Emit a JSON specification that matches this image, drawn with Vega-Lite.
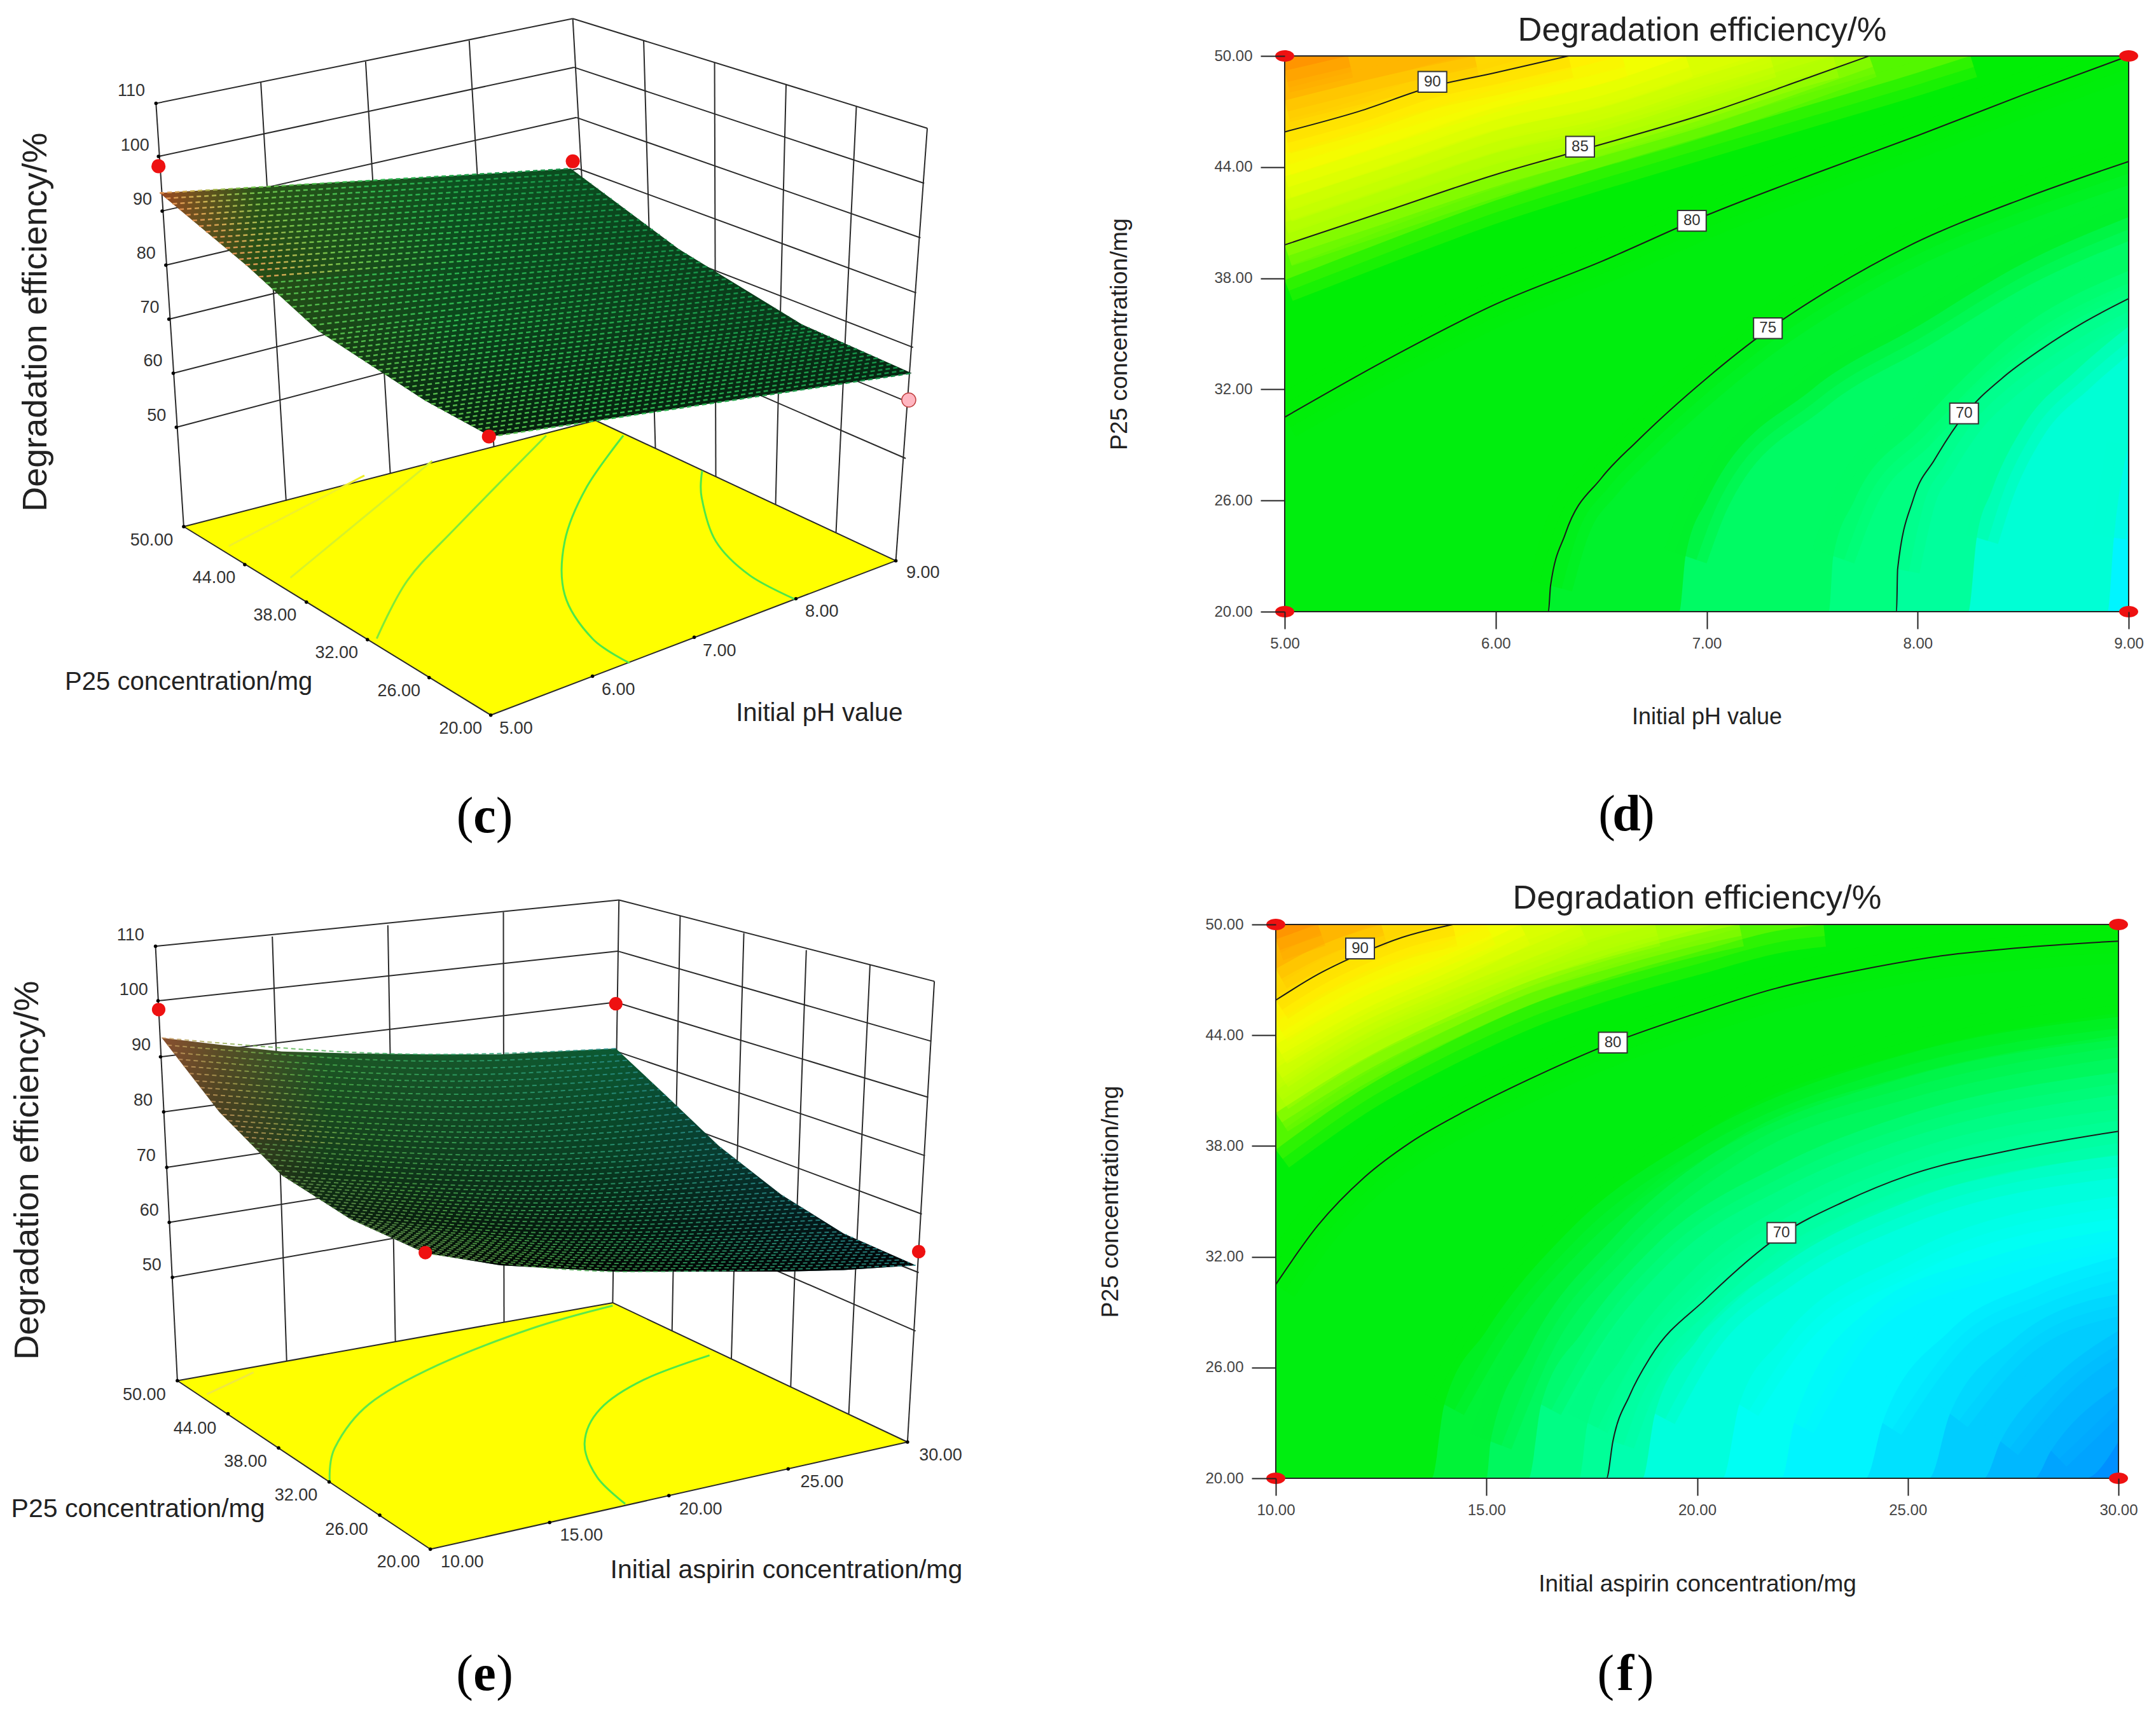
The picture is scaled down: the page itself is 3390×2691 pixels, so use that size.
{
"$schema":"https://vega.github.io/schema/vega-lite/v6.json",
"background":"white","padding":0,
"config":{"view":{"stroke":null},"text":{"font":"Liberation Sans"},"title":{"font":"Liberation Sans"}},
"columns":2,"bounds":"flush","align":"each","spacing":{"row":492,"column":0},
"datasets":{
"cWall":[{"px":252,"py":211,"px2":928,"py2":37},{"px":256,"py":320,"px2":930,"py2":137},{"px":262,"py":432,"px2":934,"py2":240},{"px":268,"py":543,"px2":937,"py2":345},{"px":273,"py":654,"px2":941,"py2":447},{"px":280,"py":765,"px2":945,"py2":550},{"px":285,"py":876,"px2":949,"py2":655},
{"px":928,"py":37,"px2":1503,"py2":262},{"px":930,"py":137,"px2":1498,"py2":375},{"px":934,"py":240,"px2":1492,"py2":487},{"px":937,"py":345,"px2":1485,"py2":600},{"px":941,"py":447,"px2":1480,"py2":712},{"px":945,"py":550,"px2":1473,"py2":825},{"px":949,"py":655,"px2":1468,"py2":940},
{"px":252,"py":211,"px2":297,"py2":1080},{"px":928,"py":37,"px2":965,"py2":862},{"px":1503,"py":262,"px2":1452,"py2":1150},
{"px":422,"py":168,"px2":463,"py2":1027},{"px":592,"py":125,"px2":632,"py2":971},{"px":760,"py":82,"px2":800,"py2":916},
{"px":1043,"py":82,"px2":1062,"py2":919},{"px":1158,"py":127,"px2":1160,"py2":977},{"px":1274,"py":172,"px2":1257,"py2":1034},{"px":1388,"py":217,"px2":1355,"py2":1092},
{"px":297,"py":1080,"px2":965,"py2":862},{"px":965,"py":862,"px2":1452,"py2":1150},{"px":1452,"py":1150,"px2":795,"py2":1467},{"px":795,"py":1467,"px2":297,"py2":1080}],
"cFloor":[{"px":297,"py":1080,"py2":1080},{"px":795,"py":917,"py2":1467},{"px":965,"py":862,"py2":1385},{"px":1452,"py":1150,"py2":1150}],
"cFloorC":[{"px":1138,"py":965,"eff":70},{"px":1137,"py":1020,"eff":70},{"px":1160,"py":1110,"eff":70},{"px":1215,"py":1180,"eff":70},{"px":1290,"py":1230,"eff":70},
{"px":1010,"py":893,"eff":75},{"px":950,"py":1000,"eff":75},{"px":915,"py":1110,"eff":75},{"px":915,"py":1220,"eff":75},{"px":960,"py":1310,"eff":75},{"px":1020,"py":1360,"eff":75},
{"px":885,"py":893,"eff":80},{"px":740,"py":1080,"eff":80},{"px":660,"py":1190,"eff":80},{"px":610,"py":1310,"eff":80},
{"px":700,"py":945,"eff":85},{"px":470,"py":1185,"eff":85},{"px":590,"py":975,"eff":90},{"px":370,"py":1120,"eff":90}],
"cSurf":[{"px":258,"py":395,"py2":395},{"px":400,"py":384,"py2":545},{"px":515,"py":375,"py2":678},{"px":688,"py":363,"py2":821},{"px":795,"py":355,"py2":895},{"px":925,"py":345,"py2":870},{"px":1100,"py":510,"py2":837},{"px":1300,"py":665,"py2":799},{"px":1478,"py":765,"py2":765}],
"cMesh":[{"px":258,"py":395,"px2":925,"py2":345},{"px":279,"py":417,"px2":947,"py2":366},{"px":301,"py":440,"px2":969,"py2":386},{"px":322,"py":463,"px2":991,"py2":407},{"px":344,"py":486,"px2":1013,"py2":428},{"px":365,"py":508,"px2":1036,"py2":450},{"px":387,"py":531,"px2":1058,"py2":470},{"px":408,"py":554,"px2":1080,"py2":491},{"px":430,"py":580,"px2":1102,"py2":512},{"px":451,"py":604,"px2":1124,"py2":529},{"px":473,"py":629,"px2":1146,"py2":546},{"px":494,"py":654,"px2":1168,"py2":563},{"px":516,"py":679,"px2":1190,"py2":580},{"px":537,"py":696,"px2":1213,"py2":598},{"px":559,"py":714,"px2":1235,"py2":615},{"px":580,"py":732,"px2":1257,"py2":632},{"px":602,"py":750,"px2":1279,"py2":649},{"px":623,"py":767,"px2":1301,"py2":666},{"px":645,"py":785,"px2":1323,"py2":678},{"px":666,"py":803,"px2":1345,"py2":690},{"px":688,"py":821,"px2":1367,"py2":703},{"px":709,"py":836,"px2":1389,"py2":715},{"px":731,"py":851,"px2":1412,"py2":728},{"px":752,"py":865,"px2":1434,"py2":740},{"px":774,"py":880,"px2":1456,"py2":753},{"px":795,"py":895,"px2":1478,"py2":765},
{"px":268.5,"py":406,"px2":936,"py2":355.5},{"px":290,"py":428.5,"px2":958,"py2":376},{"px":311.5,"py":451.5,"px2":980,"py2":396.5},{"px":333,"py":474.5,"px2":1002,"py2":417.5},{"px":354.5,"py":497,"px2":1024.5,"py2":439},{"px":376,"py":519.5,"px2":1047,"py2":460},{"px":397.5,"py":542.5,"px2":1069,"py2":480.5},{"px":419,"py":567,"px2":1091,"py2":501.5},{"px":440.5,"py":592,"px2":1113,"py2":520.5},{"px":462,"py":616.5,"px2":1135,"py2":537.5},{"px":483.5,"py":641.5,"px2":1157,"py2":554.5},{"px":505,"py":666.5,"px2":1179,"py2":571.5},{"px":526.5,"py":687.5,"px2":1201.5,"py2":589},{"px":548,"py":705,"px2":1224,"py2":606.5},{"px":569.5,"py":723,"px2":1246,"py2":623.5},{"px":591,"py":741,"px2":1268,"py2":640.5},{"px":612.5,"py":758.5,"px2":1290,"py2":657.5},{"px":634,"py":776,"px2":1312,"py2":672},{"px":655.5,"py":794,"px2":1334,"py2":684},{"px":677,"py":812,"px2":1356,"py2":696.5},{"px":698.5,"py":828.5,"px2":1378,"py2":709},{"px":720,"py":843.5,"px2":1400.5,"py2":721.5},{"px":741.5,"py":858,"px2":1423,"py2":734},{"px":763,"py":872.5,"px2":1445,"py2":746.5},{"px":784.5,"py":887.5,"px2":1467,"py2":759}],
"cRed":[{"px":256,"py":340},{"px":928,"py":330},{"px":792,"py":895}],
"cPink":[{"px":1473,"py":820}],
"cDots":[{"px":252,"py":211},{"px":256,"py":320},{"px":262,"py":432},{"px":268,"py":543},{"px":273,"py":654},{"px":280,"py":765},{"px":285,"py":876},{"px":297,"py":1080},{"px":396,"py":1158},{"px":496,"py":1235},{"px":595,"py":1312},{"px":695,"py":1390},{"px":795,"py":1467},{"px":960,"py":1387},{"px":1125,"py":1307},{"px":1290,"py":1228},{"px":1452,"py":1150}],
"cTick":[{"px":212,"py":185,"t":"110"},{"px":218,"py":298,"t":"100"},{"px":230,"py":408,"t":"90"},{"px":236,"py":520,"t":"80"},{"px":242,"py":630,"t":"70"},{"px":247,"py":740,"t":"60"},{"px":253,"py":852,"t":"50"},{"px":245,"py":1108,"t":"50.00"},{"px":346,"py":1185,"t":"44.00"},{"px":445,"py":1263,"t":"38.00"},{"px":545,"py":1340,"t":"32.00"},{"px":646,"py":1418,"t":"26.00"},{"px":746,"py":1495,"t":"20.00"},{"px":836,"py":1495,"t":"5.00"},{"px":1002,"py":1415,"t":"6.00"},{"px":1166,"py":1335,"t":"7.00"},{"px":1332,"py":1255,"t":"8.00"},{"px":1496,"py":1175,"t":"9.00"}],
"cTitle":[{"px":305,"py":1400,"t":"P25 concentration/mg"},{"px":1328,"py":1463,"t":"Initial pH value"}],
"cZ":[{"px":58,"py":660,"t":"Degradation efficiency/%"}],
"cCapB":[{"px":785,"py":1676,"t":"c"}],
"cCapP":[{"px":753,"py":1676,"t":"("},{"px":817,"py":1676,"t":")"}],
"cCorner":[{"px":0,"py":0}],
"eWall":[{"px":248,"py":140,"px2":990,"py2":45},{"px":252,"py":252,"px2":988,"py2":150},{"px":256,"py":367,"px2":985,"py2":255},{"px":261,"py":480,"px2":984,"py2":355},{"px":266,"py":594,"px2":982,"py2":455},{"px":270,"py":707,"px2":981,"py2":560},{"px":275,"py":820,"px2":980,"py2":660},
{"px":990,"py":45,"px2":1495,"py2":212},{"px":988,"py":150,"px2":1490,"py2":335},{"px":985,"py":255,"px2":1485,"py2":450},{"px":984,"py":355,"px2":1480,"py2":570},{"px":982,"py":455,"px2":1475,"py2":690},{"px":981,"py":560,"px2":1470,"py2":810},{"px":980,"py":660,"px2":1465,"py2":930},
{"px":248,"py":140,"px2":283,"py2":1032},{"px":990,"py":45,"px2":980,"py2":872},{"px":1495,"py":212,"px2":1452,"py2":1158},
{"px":435,"py":120,"px2":458,"py2":992},{"px":620,"py":97,"px2":632,"py2":952},{"px":805,"py":70,"px2":806,"py2":912},
{"px":1088,"py":78,"px2":1075,"py2":930},{"px":1190,"py":113,"px2":1170,"py2":987},{"px":1290,"py":148,"px2":1265,"py2":1045},{"px":1392,"py":178,"px2":1358,"py2":1100},
{"px":283,"py":1032,"px2":980,"py2":872},{"px":980,"py":872,"px2":1452,"py2":1158},{"px":1452,"py":1158,"px2":688,"py2":1378},{"px":688,"py":1378,"px2":283,"py2":1032}],
"eFloor":[{"px":283,"py":1032,"py2":1032},{"px":688,"py":939,"py2":1378},{"px":980,"py":872,"py2":1294},{"px":1452,"py":1158,"py2":1158}],
"eFloorC":[{"px":1135,"py":980,"eff":70},{"px":1030,"py":1030,"eff":70},{"px":960,"py":1090,"eff":70},{"px":935,"py":1160,"eff":70},{"px":955,"py":1230,"eff":70},{"px":1000,"py":1285,"eff":70},
{"px":980,"py":878,"eff":80},{"px":850,"py":925,"eff":80},{"px":700,"py":1000,"eff":80},{"px":590,"py":1080,"eff":80},{"px":535,"py":1170,"eff":80},{"px":527,"py":1240,"eff":80},
{"px":405,"py":1015,"eff":90},{"px":330,"py":1060,"eff":90}],
"eSurf":[{"px":258,"py":328,"py2":328},{"px":350,"py":342,"py2":480},{"px":450,"py":356,"py2":610},{"px":560,"py":360,"py2":700},{"px":680,"py":362,"py2":770},{"px":800,"py":362,"py2":795},{"px":985,"py":350,"py2":808},{"px":1060,"py":440,"py2":808},{"px":1150,"py":550,"py2":808},{"px":1250,"py":650,"py2":808},{"px":1350,"py":730,"py2":805},{"px":1465,"py":795,"py2":795}],
"eMesh":[{"k":0,"px":258,"py":328},{"k":0,"px":700,"py":362},{"k":0,"px":985,"py":350},{"k":1,"px":276,"py":358},{"k":1,"px":712,"py":391},{"k":1,"px":1005,"py":374},{"k":2,"px":293,"py":386},{"k":2,"px":725,"py":417},{"k":2,"px":1025,"py":398},{"k":3,"px":311,"py":416},{"k":3,"px":738,"py":444},{"k":3,"px":1045,"py":422},{"k":4,"px":328,"py":444},{"k":4,"px":750,"py":470},{"k":4,"px":1065,"py":446},{"k":5,"px":346,"py":473},{"k":5,"px":762,"py":497},{"k":5,"px":1085,"py":470},{"k":6,"px":364,"py":498},{"k":6,"px":775,"py":522},{"k":6,"px":1105,"py":495},{"k":7,"px":381,"py":520},{"k":7,"px":788,"py":544},{"k":7,"px":1125,"py":519},{"k":8,"px":399,"py":544},{"k":8,"px":800,"py":569},{"k":8,"px":1145,"py":544},{"k":9,"px":416,"py":566},{"k":9,"px":812,"py":590},{"k":9,"px":1165,"py":565},{"k":10,"px":434,"py":589},{"k":10,"px":825,"py":612},{"k":10,"px":1185,"py":585},{"k":11,"px":452,"py":612},{"k":11,"px":838,"py":633},{"k":11,"px":1205,"py":605},{"k":12,"px":469,"py":626},{"k":12,"px":850,"py":650},{"k":12,"px":1225,"py":625},{"k":13,"px":487,"py":640},{"k":13,"px":862,"py":667},{"k":13,"px":1245,"py":645},{"k":14,"px":504,"py":655},{"k":14,"px":875,"py":683},{"k":14,"px":1265,"py":662},{"k":15,"px":522,"py":669},{"k":15,"px":888,"py":698},{"k":15,"px":1285,"py":678},{"k":16,"px":540,"py":684},{"k":16,"px":900,"py":714},{"k":16,"px":1305,"py":694},{"k":17,"px":557,"py":698},{"k":17,"px":912,"py":729},{"k":17,"px":1325,"py":710},{"k":18,"px":575,"py":709},{"k":18,"px":925,"py":742},{"k":18,"px":1345,"py":726},{"k":19,"px":592,"py":719},{"k":19,"px":938,"py":753},{"k":19,"px":1365,"py":738},{"k":20,"px":610,"py":729},{"k":20,"px":950,"py":764},{"k":20,"px":1385,"py":750},{"k":21,"px":628,"py":739},{"k":21,"px":962,"py":775},{"k":21,"px":1405,"py":761},{"k":22,"px":645,"py":749},{"k":22,"px":975,"py":785},{"k":22,"px":1425,"py":772},{"k":23,"px":663,"py":760},{"k":23,"px":988,"py":797},{"k":23,"px":1445,"py":784},{"k":24,"px":680,"py":770},{"k":24,"px":1000,"py":808},{"k":24,"px":1465,"py":795},
{"k":0.5,"px":267,"py":343},{"k":0.5,"px":706,"py":376},{"k":0.5,"px":995,"py":362},{"k":1.5,"px":284.5,"py":372},{"k":1.5,"px":718.5,"py":404},{"k":1.5,"px":1015,"py":386},{"k":2.5,"px":302,"py":401},{"k":2.5,"px":731.5,"py":430},{"k":2.5,"px":1035,"py":410},{"k":3.5,"px":319.5,"py":430},{"k":3.5,"px":744,"py":457},{"k":3.5,"px":1055,"py":434},{"k":4.5,"px":337,"py":458.5},{"k":4.5,"px":756,"py":483.5},{"k":4.5,"px":1075,"py":458},{"k":5.5,"px":355,"py":485.5},{"k":5.5,"px":768.5,"py":509.5},{"k":5.5,"px":1095,"py":482.5},{"k":6.5,"px":372.5,"py":509},{"k":6.5,"px":781.5,"py":533},{"k":6.5,"px":1115,"py":507},{"k":7.5,"px":390,"py":532},{"k":7.5,"px":794,"py":556.5},{"k":7.5,"px":1135,"py":531.5},{"k":8.5,"px":407.5,"py":555},{"k":8.5,"px":806,"py":579.5},{"k":8.5,"px":1155,"py":554.5},{"k":9.5,"px":425,"py":577.5},{"k":9.5,"px":818.5,"py":601},{"k":9.5,"px":1175,"py":575},{"k":10.5,"px":443,"py":600.5},{"k":10.5,"px":831.5,"py":622.5},{"k":10.5,"px":1195,"py":595},{"k":11.5,"px":460.5,"py":619},{"k":11.5,"px":844,"py":641.5},{"k":11.5,"px":1215,"py":615},{"k":12.5,"px":478,"py":633},{"k":12.5,"px":856,"py":658.5},{"k":12.5,"px":1235,"py":635},{"k":13.5,"px":495.5,"py":647.5},{"k":13.5,"px":868.5,"py":675},{"k":13.5,"px":1255,"py":653.5},{"k":14.5,"px":513,"py":662},{"k":14.5,"px":881.5,"py":690.5},{"k":14.5,"px":1275,"py":670},{"k":15.5,"px":531,"py":676.5},{"k":15.5,"px":894,"py":706},{"k":15.5,"px":1295,"py":686},{"k":16.5,"px":548.5,"py":691},{"k":16.5,"px":906,"py":721.5},{"k":16.5,"px":1315,"py":702},{"k":17.5,"px":566,"py":703.5},{"k":17.5,"px":918.5,"py":735.5},{"k":17.5,"px":1335,"py":718},{"k":18.5,"px":583.5,"py":714},{"k":18.5,"px":931.5,"py":747.5},{"k":18.5,"px":1355,"py":732},{"k":19.5,"px":601,"py":724},{"k":19.5,"px":944,"py":758.5},{"k":19.5,"px":1375,"py":744},{"k":20.5,"px":619,"py":734},{"k":20.5,"px":956,"py":769.5},{"k":20.5,"px":1395,"py":755.5},{"k":21.5,"px":636.5,"py":744},{"k":21.5,"px":968.5,"py":780},{"k":21.5,"px":1415,"py":766.5},{"k":22.5,"px":654,"py":754.5},{"k":22.5,"px":981.5,"py":791},{"k":22.5,"px":1435,"py":778},{"k":23.5,"px":671.5,"py":765},{"k":23.5,"px":994,"py":802.5},{"k":23.5,"px":1455,"py":789.5}],
"eRed":[{"px":253,"py":270},{"px":985,"py":258},{"px":680,"py":769},{"px":1470,"py":767}],
"eDots":[{"px":248,"py":140},{"px":252,"py":252},{"px":256,"py":367},{"px":261,"py":480},{"px":266,"py":594},{"px":270,"py":707},{"px":275,"py":820},{"px":283,"py":1032},{"px":364,"py":1100},{"px":445,"py":1170},{"px":526,"py":1240},{"px":607,"py":1308},{"px":688,"py":1378},{"px":879,"py":1323},{"px":1070,"py":1268},{"px":1261,"py":1213},{"px":1452,"py":1158}],
"eTick":[{"px":208,"py":118,"t":"110"},{"px":213,"py":230,"t":"100"},{"px":225,"py":343,"t":"90"},{"px":228,"py":457,"t":"80"},{"px":233,"py":570,"t":"70"},{"px":238,"py":683,"t":"60"},{"px":242,"py":795,"t":"50"},{"px":230,"py":1062,"t":"50.00"},{"px":311,"py":1130,"t":"44.00"},{"px":392,"py":1198,"t":"38.00"},{"px":473,"py":1267,"t":"32.00"},{"px":554,"py":1338,"t":"26.00"},{"px":637,"py":1405,"t":"20.00"},{"px":739,"py":1405,"t":"10.00"},{"px":930,"py":1350,"t":"15.00"},{"px":1121,"py":1297,"t":"20.00"},{"px":1315,"py":1240,"t":"25.00"},{"px":1505,"py":1185,"t":"30.00"}],
"eTitle":[{"px":220,"py":1297,"t":"P25 concentration/mg"},{"px":1258,"py":1422,"t":"Initial aspirin concentration/mg"}],
"eZ":[{"px":44,"py":600,"t":"Degradation efficiency/%"}],
"eCapB":[{"px":775,"py":1636,"t":"e"}],
"eCapP":[{"px":743,"py":1636,"t":"("},{"px":807,"py":1636,"t":")"}],
"eCorner":[{"px":3452,"py":1711}],
"d":[{"ph":5,"p25":20,"eff":65},{"ph":9,"p25":20,"eff":65},
{"ph":5,"p25":20,"eff":67},{"ph":8.9,"p25":20,"eff":67},{"ph":8.93,"p25":24,"eff":67},{"ph":9,"p25":29,"eff":67},
{"ph":5,"p25":20,"eff":69},{"ph":8.24,"p25":20,"eff":69},{"ph":8.28,"p25":24,"eff":69},{"ph":8.35,"p25":26.5,"eff":69},{"ph":8.5,"p25":30,"eff":69},{"ph":8.75,"p25":33,"eff":69},{"ph":9,"p25":35.4,"eff":69},
{"ph":5,"p25":20,"eff":70},{"ph":7.9,"p25":20,"eff":70},{"ph":7.905,"p25":22.3,"eff":70},{"ph":7.98,"p25":26.1,"eff":70},{"ph":8.08,"p25":28.2,"eff":70},{"ph":8.22,"p25":30.6,"eff":70},{"ph":8.4,"p25":32.6,"eff":70},{"ph":8.59,"p25":34.2,"eff":70},{"ph":8.8,"p25":35.7,"eff":70},{"ph":9,"p25":36.9,"eff":70},
{"ph":5,"p25":20,"eff":71},{"ph":7.58,"p25":20,"eff":71},{"ph":7.6,"p25":23,"eff":71},{"ph":7.7,"p25":26,"eff":71},{"ph":8,"p25":30,"eff":71},{"ph":8.5,"p25":35.4,"eff":71},{"ph":9,"p25":38.4,"eff":71},
{"ph":5,"p25":20,"eff":73},{"ph":6.87,"p25":20,"eff":73},{"ph":6.9,"p25":23,"eff":73},{"ph":7,"p25":26,"eff":73},{"ph":7.5,"p25":32,"eff":73},{"ph":8,"p25":35.4,"eff":73},{"ph":8.5,"p25":38.8,"eff":73},{"ph":9,"p25":41.3,"eff":73},
{"ph":5,"p25":20,"eff":75},{"ph":6.25,"p25":20,"eff":75},{"ph":6.26,"p25":21.4,"eff":75},{"ph":6.33,"p25":24.2,"eff":75},{"ph":6.5,"p25":27.2,"eff":75},{"ph":6.67,"p25":29.2,"eff":75},{"ph":7,"p25":32.6,"eff":75},{"ph":7.29,"p25":35.2,"eff":75},{"ph":7.6,"p25":37.5,"eff":75},{"ph":7.95,"p25":39.7,"eff":75},{"ph":8.5,"p25":42.3,"eff":75},{"ph":9,"p25":44.3,"eff":75},
{"ph":5,"p25":30.5,"eff":80},{"ph":5.5,"p25":33.7,"eff":80},{"ph":6,"p25":36.6,"eff":80},{"ph":6.5,"p25":38.9,"eff":80},{"ph":7,"p25":41.4,"eff":80},{"ph":7.5,"p25":43.6,"eff":80},{"ph":8,"p25":45.7,"eff":80},{"ph":8.5,"p25":47.9,"eff":80},{"ph":9,"p25":50,"eff":80},
{"ph":5,"p25":37.9,"eff":84},{"ph":5.5,"p25":40.1,"eff":84},{"ph":6,"p25":42.2,"eff":84},{"ph":6.5,"p25":44,"eff":84},{"ph":7,"p25":45.7,"eff":84},{"ph":7.5,"p25":47.4,"eff":84},{"ph":8,"p25":49.1,"eff":84},{"ph":8.25,"p25":50,"eff":84},
{"ph":5,"p25":39.8,"eff":85},{"ph":5.5,"p25":41.7,"eff":85},{"ph":6,"p25":43.6,"eff":85},{"ph":6.4,"p25":44.9,"eff":85},{"ph":7,"p25":46.9,"eff":85},{"ph":7.5,"p25":48.9,"eff":85},{"ph":7.77,"p25":50,"eff":85},
{"ph":5,"p25":41,"eff":86},{"ph":5.5,"p25":42.9,"eff":86},{"ph":6,"p25":44.8,"eff":86},{"ph":6.5,"p25":46.2,"eff":86},{"ph":7,"p25":47.9,"eff":86},{"ph":7.5,"p25":49.7,"eff":86},{"ph":7.6,"p25":50,"eff":86},
{"ph":5,"p25":42.2,"eff":87},{"ph":5.5,"p25":44.1,"eff":87},{"ph":6,"p25":46,"eff":87},{"ph":6.5,"p25":47.2,"eff":87},{"ph":7,"p25":49,"eff":87},{"ph":7.3,"p25":50,"eff":87},
{"ph":5,"p25":43.5,"eff":88},{"ph":5.5,"p25":45.3,"eff":88},{"ph":6,"p25":47.2,"eff":88},{"ph":6.5,"p25":48.5,"eff":88},{"ph":6.9,"p25":50,"eff":88},
{"ph":5,"p25":44.7,"eff":89},{"ph":5.5,"p25":46.5,"eff":89},{"ph":6,"p25":48.2,"eff":89},{"ph":6.6,"p25":50,"eff":89},
{"ph":5,"p25":45.9,"eff":90},{"ph":5.35,"p25":47,"eff":90},{"ph":5.7,"p25":48.35,"eff":90},{"ph":6,"p25":49.1,"eff":90},{"ph":6.345,"p25":50,"eff":90},
{"ph":5,"p25":47.6,"eff":91.5},{"ph":5.5,"p25":49,"eff":91.5},{"ph":5.9,"p25":50,"eff":91.5},
{"ph":5,"p25":49.2,"eff":93},{"ph":5.3,"p25":50,"eff":93}],
"dFrame":[{"ph":5,"p25":50,"ph2":9,"p252":50},{"ph":5,"p25":20,"ph2":9,"p252":20},{"ph":5,"p25":20,"ph2":5,"p252":50},{"ph":9,"p25":20,"ph2":9,"p252":50}],
"dMargin":[{"ph":4.979,"p25":20,"ph2":4.979,"p252":50}],
"dRed":[{"ph":5,"p25":20},{"ph":5,"p25":50},{"ph":9,"p25":20},{"ph":9,"p25":50}],
"dLab":[{"ph":5.7,"p25":48.6,"t":"90"},{"ph":6.4,"p25":45.1,"t":"85"},{"ph":6.93,"p25":41.1,"t":"80"},{"ph":7.29,"p25":35.3,"t":"75"},{"ph":8.22,"p25":30.7,"t":"70"}],
"dCapB":[{"ph":6.62,"p25":9,"t":"d"}],
"dCapP":[{"ph":6.527,"p25":9,"t":"("},{"ph":6.713,"p25":9,"t":")"}],
"f":[{"asp":10,"p25":20,"eff":60},{"asp":30,"p25":20,"eff":60},
{"asp":10,"p25":20,"eff":61},{"asp":29.2,"p25":20,"eff":61},{"asp":30,"p25":22,"eff":61},
{"asp":10,"p25":20,"eff":62},{"asp":28,"p25":20,"eff":62},{"asp":28.4,"p25":21.5,"eff":62},{"asp":30,"p25":25,"eff":62},
{"asp":10,"p25":20,"eff":63},{"asp":26.8,"p25":20,"eff":63},{"asp":27.2,"p25":22,"eff":63},{"asp":28.5,"p25":25.5,"eff":63},{"asp":30,"p25":28,"eff":63},
{"asp":10,"p25":20,"eff":64},{"asp":25.5,"p25":20,"eff":64},{"asp":26,"p25":23.5,"eff":64},{"asp":27.5,"p25":27.5,"eff":64},{"asp":30,"p25":30,"eff":64},
{"asp":10,"p25":20,"eff":65},{"asp":24,"p25":20,"eff":65},{"asp":24.4,"p25":23,"eff":65},{"asp":26,"p25":28,"eff":65},{"asp":28,"p25":30.5,"eff":65},{"asp":30,"p25":32,"eff":65},
{"asp":10,"p25":20,"eff":66},{"asp":22,"p25":20,"eff":66},{"asp":22.3,"p25":23,"eff":66},{"asp":24,"p25":29,"eff":66},{"asp":27,"p25":32,"eff":66},{"asp":30,"p25":33.5,"eff":66},
{"asp":10,"p25":20,"eff":67},{"asp":20.6,"p25":20,"eff":67},{"asp":21,"p25":24,"eff":67},{"asp":22,"p25":27.5,"eff":67},{"asp":25,"p25":32.2,"eff":67},{"asp":30,"p25":35.3,"eff":67},
{"asp":10,"p25":20,"eff":69},{"asp":18.7,"p25":20,"eff":69},{"asp":19,"p25":23.5,"eff":69},{"asp":20,"p25":27.5,"eff":69},{"asp":22,"p25":31.5,"eff":69},{"asp":25,"p25":35,"eff":69},{"asp":30,"p25":37.5,"eff":69},
{"asp":10,"p25":20,"eff":70},{"asp":17.85,"p25":20,"eff":70},{"asp":18,"p25":22,"eff":70},{"asp":18.4,"p25":24.5,"eff":70},{"asp":18.9,"p25":26.6,"eff":70},{"asp":20.2,"p25":29.7,"eff":70},{"asp":22,"p25":33.2,"eff":70},{"asp":23.5,"p25":35,"eff":70},{"asp":25,"p25":36.4,"eff":70},{"asp":27.5,"p25":37.8,"eff":70},{"asp":30,"p25":38.8,"eff":70},
{"asp":10,"p25":20,"eff":71},{"asp":17.2,"p25":20,"eff":71},{"asp":17.4,"p25":23,"eff":71},{"asp":18.2,"p25":26.5,"eff":71},{"asp":20,"p25":31.5,"eff":71},{"asp":22,"p25":34.7,"eff":71},{"asp":25,"p25":37.7,"eff":71},{"asp":30,"p25":40,"eff":71},
{"asp":10,"p25":20,"eff":73},{"asp":16,"p25":20,"eff":73},{"asp":16.3,"p25":24,"eff":73},{"asp":17.3,"p25":28,"eff":73},{"asp":19,"p25":32.6,"eff":73},{"asp":22,"p25":37,"eff":73},{"asp":25,"p25":39.7,"eff":73},{"asp":30,"p25":42,"eff":73},
{"asp":10,"p25":20,"eff":75},{"asp":15,"p25":20,"eff":75},{"asp":15.1,"p25":22,"eff":75},{"asp":16,"p25":27,"eff":75},{"asp":18,"p25":33,"eff":75},{"asp":21,"p25":38.5,"eff":75},{"asp":25,"p25":41.8,"eff":75},{"asp":30,"p25":44,"eff":75},
{"asp":10,"p25":20,"eff":77},{"asp":13.7,"p25":20,"eff":77},{"asp":14,"p25":24,"eff":77},{"asp":15,"p25":28,"eff":77},{"asp":17,"p25":33.5,"eff":77},{"asp":20,"p25":38.5,"eff":77},{"asp":25,"p25":43,"eff":77},{"asp":30,"p25":45,"eff":77},
{"asp":10,"p25":30.5,"eff":80},{"asp":11,"p25":33.7,"eff":80},{"asp":12.1,"p25":36.3,"eff":80},{"asp":13.2,"p25":38.2,"eff":80},{"asp":14.5,"p25":39.9,"eff":80},{"asp":16,"p25":41.6,"eff":80},{"asp":18,"p25":43.6,"eff":80},{"asp":20,"p25":45.2,"eff":80},{"asp":21.8,"p25":46.5,"eff":80},{"asp":24,"p25":47.6,"eff":80},{"asp":25.8,"p25":48.3,"eff":80},{"asp":28,"p25":48.8,"eff":80},{"asp":30,"p25":49.1,"eff":80},
{"asp":10,"p25":37.8,"eff":84},{"asp":12,"p25":41,"eff":84},{"asp":14,"p25":43.5,"eff":84},{"asp":16,"p25":45.6,"eff":84},{"asp":18,"p25":47.2,"eff":84},{"asp":20,"p25":48.5,"eff":84},{"asp":22,"p25":49.7,"eff":84},{"asp":23,"p25":50,"eff":84},
{"asp":10,"p25":39.8,"eff":85},{"asp":12,"p25":42.6,"eff":85},{"asp":14,"p25":44.9,"eff":85},{"asp":16,"p25":46.9,"eff":85},{"asp":18,"p25":48.3,"eff":85},{"asp":20,"p25":49.5,"eff":85},{"asp":21,"p25":50,"eff":85},
{"asp":10,"p25":41,"eff":86},{"asp":12,"p25":43.9,"eff":86},{"asp":14,"p25":46,"eff":86},{"asp":16,"p25":47.9,"eff":86},{"asp":18,"p25":49.4,"eff":86},{"asp":19,"p25":50,"eff":86},
{"asp":10,"p25":42.2,"eff":87},{"asp":12,"p25":45,"eff":87},{"asp":14,"p25":47,"eff":87},{"asp":16,"p25":48.8,"eff":87},{"asp":17.2,"p25":50,"eff":87},
{"asp":10,"p25":43.5,"eff":88},{"asp":12,"p25":46,"eff":88},{"asp":14,"p25":48,"eff":88},{"asp":15.8,"p25":50,"eff":88},
{"asp":10,"p25":44.7,"eff":89},{"asp":12,"p25":47.3,"eff":89},{"asp":14,"p25":49,"eff":89},{"asp":15,"p25":50,"eff":89},
{"asp":10,"p25":45.9,"eff":90},{"asp":11,"p25":47.3,"eff":90},{"asp":12.1,"p25":48.5,"eff":90},{"asp":13,"p25":49.3,"eff":90},{"asp":14.2,"p25":50,"eff":90},
{"asp":10,"p25":47.6,"eff":91.5},{"asp":11,"p25":48.8,"eff":91.5},{"asp":12.5,"p25":50,"eff":91.5},
{"asp":10,"p25":49.2,"eff":93},{"asp":11,"p25":50,"eff":93}],
"fFrame":[{"asp":10,"p25":50,"asp2":30,"p252":50},{"asp":10,"p25":20,"asp2":30,"p252":20},{"asp":10,"p25":20,"asp2":10,"p252":50},{"asp":30,"p25":20,"asp2":30,"p252":50}],
"fRed":[{"asp":10,"p25":20},{"asp":10,"p25":50},{"asp":30,"p25":20},{"asp":30,"p25":50}],
"fLab":[{"asp":12,"p25":48.7,"t":"90"},{"asp":18,"p25":43.6,"t":"80"},{"asp":22,"p25":33.3,"t":"70"}],
"fCapB":[{"asp":18.3,"p25":9.36,"t":"f"}],
"fCapP":[{"asp":17.83,"p25":9.36,"t":"("},{"asp":18.77,"p25":9.36,"t":")"}]
},
"concat":[
{"width":2005,"height":874,
"encoding":{"x":{"field":"px","type":"quantitative","scale":{"domain":[0,2068.3],"nice":false,"zero":false},"axis":null},"y":{"field":"py","type":"quantitative","scale":{"domain":[1254.6,113.6],"nice":false,"zero":false},"axis":null}},
"layer":[
{"data":{"name":"cCorner"},"mark":{"type":"point","opacity":0,"size":1}},
{"data":{"name":"cFloor"},"mark":{"type":"area","orient":"vertical","fill":"#ffff00"},"encoding":{"y2":{"field":"py2"}}},
{"data":{"name":"cWall"},"mark":{"type":"rule","stroke":"#2a2a2a","strokeWidth":2},"encoding":{"x2":{"field":"px2"},"y2":{"field":"py2"}}},
{"data":{"name":"cFloorC"},"mark":{"type":"line","strokeWidth":3,"interpolate":"cardinal"},"encoding":{"order":{"value":null},"detail":{"field":"eff"},"color":{"field":"eff","type":"ordinal","legend":null,"scale":{"domain":[70,75,80,85,90],"range":["#4de84a","#4de84a","#7fea3a","#d8f22a","#f0f02a"]}}}},
{"data":{"name":"cSurf"},"mark":{"type":"area","orient":"vertical","fill":{"gradient":"linear","x1":0,"y1":0,"x2":1,"y2":0,"stops":[{"offset":0,"color":"#a04a20"},{"offset":0.05,"color":"#6e5420"},{"offset":0.13,"color":"#2a5518"},{"offset":0.4,"color":"#0c5220"},{"offset":1,"color":"#0a3a1c"}]}},"encoding":{"y2":{"field":"py2"}}},
{"data":{"name":"cSurf"},"mark":{"type":"area","orient":"vertical","fill":{"gradient":"linear","x1":0,"y1":0,"x2":0,"y2":1,"stops":[{"offset":0,"color":"rgba(0,0,0,0)"},{"offset":0.55,"color":"rgba(0,0,0,0.12)"},{"offset":1,"color":"rgba(0,0,0,0.6)"}]}},"encoding":{"y2":{"field":"py2"}}},
{"data":{"name":"cMesh"},"transform":[{"filter":"datum.px<430"}],"mark":{"type":"rule","strokeWidth":2.5,"strokeDash":[7,5],"stroke":{"gradient":"linear","x1":0,"y1":0,"x2":1,"y2":0,"stops":[{"offset":0,"color":"#e09050"},{"offset":0.08,"color":"#c8b050"},{"offset":0.22,"color":"#70c048"},{"offset":0.5,"color":"#30b850"},{"offset":1,"color":"#149048"}]}},"encoding":{"x2":{"field":"px2"},"y2":{"field":"py2"}}},
{"data":{"name":"cMesh"},"transform":[{"filter":"datum.px>=430"}],"mark":{"type":"rule","strokeWidth":2.5,"strokeDash":[7,5],"stroke":{"gradient":"linear","x1":0,"y1":0,"x2":1,"y2":0,"stops":[{"offset":0,"color":"#58b848"},{"offset":0.3,"color":"#30b850"},{"offset":1,"color":"#149048"}]}},"encoding":{"x2":{"field":"px2"},"y2":{"field":"py2"}}},
{"data":{"name":"cDots"},"mark":{"type":"point","filled":true,"color":"#000","size":30,"opacity":1}},
{"data":{"name":"cRed"},"mark":{"type":"point","filled":true,"color":"#ee1111","size":490,"opacity":1}},
{"data":{"name":"cPink"},"mark":{"type":"point","filled":true,"fill":"#ffb6c1","stroke":"#c04040","strokeWidth":1.5,"size":490,"opacity":1}},
{"data":{"name":"cTick"},"mark":{"type":"text","fontSize":27,"color":"#333","baseline":"middle","align":"center"},"encoding":{"text":{"field":"t"}}},
{"data":{"name":"cTitle"},"mark":{"type":"text","fontSize":40,"color":"#222","baseline":"middle","align":"center"},"encoding":{"text":{"field":"t"}}},
{"data":{"name":"cZ"},"mark":{"type":"text","fontSize":54,"color":"#222","baseline":"middle","align":"center","angle":270},"encoding":{"text":{"field":"t"}}},
{"data":{"name":"cCapP"},"mark":{"type":"text","font":"Liberation Serif","fontSize":80,"color":"#000","baseline":"middle","align":"center"},"encoding":{"text":{"field":"t"}}},
{"data":{"name":"cCapB"},"mark":{"type":"text","font":"Liberation Serif","fontWeight":"bold","fontSize":80,"color":"#000","baseline":"middle","align":"center"},"encoding":{"text":{"field":"t"}}}
]},
{"width":1341,"height":874,
"title":{"text":"Degradation efficiency/%","fontSize":52.5,"fontWeight":"normal","color":"#222","offset":1,"anchor":"middle"},
"encoding":{"x":{"field":"ph","type":"quantitative","scale":{"domain":[5,9],"range":[14,1341],"nice":false,"zero":false},"axis":{"title":"Initial pH value","values":[5,6,7,8,9],"format":".2f","grid":false,"domain":false,"zindex":1,"tickColor":"#222","tickWidth":2,"tickSize":27,"labelFont":"Liberation Sans","labelFontSize":24,"labelColor":"#444","labelPadding":11,"labelFlush":false,"titleFont":"Liberation Sans","titleFontSize":36,"titleFontWeight":"normal","titleColor":"#222","titlePadding":86}},"y":{"field":"p25","type":"quantitative","scale":{"domain":[20,50],"nice":false,"zero":false},"axis":{"title":"P25 concentration/mg","values":[20,26,32,38,44,50],"format":".2f","offset":-14,"grid":false,"domain":false,"zindex":1,"tickColor":"#222","tickWidth":2,"tickSize":38,"labelFont":"Liberation Sans","labelFontSize":24,"labelColor":"#444","labelPadding":13,"labelFlush":false,"titleFont":"Liberation Sans","titleFontSize":37.5,"titleFontWeight":"normal","titleColor":"#222","titlePadding":129}}},
"layer":[
{"data":{"name":"d"},"mark":{"type":"area","orient":"vertical","interpolate":"monotone"},"encoding":{"y2":{"datum":50},"detail":{"field":"eff"},"color":{"field":"eff","type":"quantitative","legend":null,"scale":{"interpolate":"rgb","domain":[60,65.5,70,74,83,85,88.5,90,94],"range":["#0090ff","#00ffff","#00ff80","#00ee10","#00ee00","#a8ff00","#ffff00","#ffd800","#ff8000"]}}}},
{"data":{"name":"d"},"transform":[{"filter":"datum.p25>20"}],"mark":{"type":"line","clip":true,"interpolate":"monotone","strokeWidth":70,"opacity":0.3},"encoding":{"detail":{"field":"eff"},"color":{"field":"eff","type":"quantitative","legend":null}}},
{"data":{"name":"d"},"transform":[{"filter":"datum.p25>20"}],"mark":{"type":"line","clip":true,"interpolate":"monotone","strokeWidth":36,"opacity":0.35},"encoding":{"detail":{"field":"eff"},"color":{"field":"eff","type":"quantitative","legend":null}}},
{"data":{"name":"d"},"transform":[{"filter":{"field":"eff","oneOf":[70,75,80,85,90]}}],"mark":{"type":"line","interpolate":"monotone","color":"#1a1a1a","strokeWidth":2},"encoding":{"detail":{"field":"eff"}}},
{"data":{"name":"dMargin"},"mark":{"type":"rule","color":"#fff","strokeWidth":14},"encoding":{"x2":{"field":"ph2"},"y2":{"field":"p252"}}},
{"data":{"name":"dFrame"},"mark":{"type":"rule","color":"#222","strokeWidth":2},"encoding":{"x2":{"field":"ph2"},"y2":{"field":"p252"}}},
{"data":{"name":"dRed"},"mark":{"type":"point","filled":true,"opacity":1,"color":"#ee1111","size":900,"shape":"M-1,0A1,0.6 0 1 1 1,0A1,0.6 0 1 1 -1,0Z"}},
{"data":{"name":"dLab"},"mark":{"type":"point","filled":true,"opacity":1,"fill":"#fff","stroke":"#333","strokeWidth":2,"size":2025,"shape":"M-1,-0.72H1V0.72H-1Z"}},
{"data":{"name":"dLab"},"mark":{"type":"text","fontSize":24,"color":"#333","baseline":"middle","align":"center"},"encoding":{"text":{"field":"t"}}},
{"data":{"name":"dCapP"},"mark":{"type":"text","font":"Liberation Serif","fontSize":80,"color":"#000","baseline":"middle","align":"center"},"encoding":{"text":{"field":"t"}}},
{"data":{"name":"dCapB"},"mark":{"type":"text","font":"Liberation Serif","fontWeight":"bold","fontSize":80,"color":"#000","baseline":"middle","align":"center"},"encoding":{"text":{"field":"t"}}}
]},
{"width":2005,"height":871,
"encoding":{"x":{"field":"px","type":"quantitative","scale":{"domain":[0,2041.7],"nice":false,"zero":false},"axis":null},"y":{"field":"py","type":"quantitative","scale":{"domain":[1232.4,95.3],"nice":false,"zero":false},"axis":null}},
"layer":[
{"data":{"name":"eCorner"},"mark":{"type":"point","opacity":0,"size":1}},
{"data":{"name":"eFloor"},"mark":{"type":"area","orient":"vertical","fill":"#ffff00"},"encoding":{"y2":{"field":"py2"}}},
{"data":{"name":"eWall"},"mark":{"type":"rule","stroke":"#2a2a2a","strokeWidth":2},"encoding":{"x2":{"field":"px2"},"y2":{"field":"py2"}}},
{"data":{"name":"eFloorC"},"mark":{"type":"line","strokeWidth":3,"interpolate":"cardinal"},"encoding":{"order":{"value":null},"detail":{"field":"eff"},"color":{"field":"eff","type":"ordinal","legend":null,"scale":{"domain":[70,80,90],"range":["#4de84a","#5ee84a","#f0e840"]}}}},
{"data":{"name":"eSurf"},"mark":{"type":"area","orient":"vertical","fill":{"gradient":"linear","x1":0,"y1":0,"x2":1,"y2":0,"stops":[{"offset":0,"color":"#8a5030"},{"offset":0.08,"color":"#5a5028"},{"offset":0.22,"color":"#1e5a26"},{"offset":0.6,"color":"#0c5c34"},{"offset":0.85,"color":"#0a5050"},{"offset":1,"color":"#0a3040"}]}},"encoding":{"y2":{"field":"py2"}}},
{"data":{"name":"eSurf"},"mark":{"type":"area","orient":"vertical","fill":{"gradient":"linear","x1":0,"y1":0,"x2":0,"y2":1,"stops":[{"offset":0,"color":"rgba(0,0,0,0)"},{"offset":0.5,"color":"rgba(0,0,0,0.3)"},{"offset":1,"color":"rgba(0,0,0,0.95)"}]}},"encoding":{"y2":{"field":"py2"}}},
{"data":{"name":"eMesh"},"transform":[{"filter":"datum.k<8"}],"mark":{"type":"line","interpolate":"monotone","strokeWidth":2,"strokeDash":[7,5],"strokeOpacity":0.8,"stroke":{"gradient":"linear","x1":0,"y1":0,"x2":1,"y2":0,"stops":[{"offset":0,"color":"#c89860"},{"offset":0.1,"color":"#a8a850"},{"offset":0.28,"color":"#50b048"},{"offset":0.6,"color":"#30a868"},{"offset":1,"color":"#2a9090"}]}},"encoding":{"detail":{"field":"k"}}},
{"data":{"name":"eMesh"},"transform":[{"filter":"datum.k>=8"}],"mark":{"type":"line","interpolate":"monotone","strokeWidth":2,"strokeDash":[7,5],"strokeOpacity":0.8,"stroke":{"gradient":"linear","x1":0,"y1":0,"x2":1,"y2":0,"stops":[{"offset":0,"color":"#6a9a50"},{"offset":0.25,"color":"#50a848"},{"offset":0.6,"color":"#30a868"},{"offset":1,"color":"#2a9090"}]}},"encoding":{"detail":{"field":"k"}}},
{"data":{"name":"eDots"},"mark":{"type":"point","filled":true,"color":"#000","size":30,"opacity":1}},
{"data":{"name":"eRed"},"mark":{"type":"point","filled":true,"color":"#ee1111","size":450,"opacity":1}},
{"data":{"name":"eTick"},"mark":{"type":"text","fontSize":27,"color":"#333","baseline":"middle","align":"center"},"encoding":{"text":{"field":"t"}}},
{"data":{"name":"eTitle"},"mark":{"type":"text","fontSize":41,"color":"#222","baseline":"middle","align":"center"},"encoding":{"text":{"field":"t"}}},
{"data":{"name":"eZ"},"mark":{"type":"text","fontSize":54,"color":"#222","baseline":"middle","align":"center","angle":270},"encoding":{"text":{"field":"t"}}},
{"data":{"name":"eCapP"},"mark":{"type":"text","font":"Liberation Serif","fontSize":80,"color":"#000","baseline":"middle","align":"center"},"encoding":{"text":{"field":"t"}}},
{"data":{"name":"eCapB"},"mark":{"type":"text","font":"Liberation Serif","fontWeight":"bold","fontSize":80,"color":"#000","baseline":"middle","align":"center"},"encoding":{"text":{"field":"t"}}}
]},
{"width":1325,"height":871,
"title":{"text":"Degradation efficiency/%","fontSize":52.5,"fontWeight":"normal","color":"#222","offset":2,"anchor":"middle"},
"encoding":{"x":{"field":"asp","type":"quantitative","scale":{"domain":[10,30],"nice":false,"zero":false},"axis":{"title":"Initial aspirin concentration/mg","values":[10,15,20,25,30],"format":".2f","grid":false,"domain":false,"zindex":1,"tickColor":"#222","tickWidth":2,"tickSize":27,"labelFont":"Liberation Sans","labelFontSize":24,"labelColor":"#444","labelPadding":11,"labelFlush":false,"titleFont":"Liberation Sans","titleFontSize":37,"titleFontWeight":"normal","titleColor":"#222","titlePadding":86}},"y":{"field":"p25","type":"quantitative","scale":{"domain":[20,50],"nice":false,"zero":false},"axis":{"title":"P25 concentration/mg","values":[20,26,32,38,44,50],"format":".2f","grid":false,"domain":false,"zindex":1,"tickColor":"#222","tickWidth":2,"tickSize":38,"labelFont":"Liberation Sans","labelFontSize":24,"labelColor":"#444","labelPadding":13,"labelFlush":false,"titleFont":"Liberation Sans","titleFontSize":37.5,"titleFontWeight":"normal","titleColor":"#222","titlePadding":129}}},
"layer":[
{"data":{"name":"f"},"mark":{"type":"area","orient":"vertical","interpolate":"monotone"},"encoding":{"y2":{"datum":50},"detail":{"field":"eff"},"color":{"field":"eff","type":"quantitative","legend":null,"scale":{"interpolate":"rgb","domain":[60,65.5,70,77,83,85,88.5,90,94],"range":["#0090ff","#00ffff","#00ff98","#00ee10","#00ee00","#a8ff00","#ffff00","#ffd800","#ff8000"]}}}},
{"data":{"name":"f"},"transform":[{"filter":"datum.p25>20"}],"mark":{"type":"line","clip":true,"interpolate":"monotone","strokeWidth":70,"opacity":0.3},"encoding":{"detail":{"field":"eff"},"color":{"field":"eff","type":"quantitative","legend":null}}},
{"data":{"name":"f"},"transform":[{"filter":"datum.p25>20"}],"mark":{"type":"line","clip":true,"interpolate":"monotone","strokeWidth":36,"opacity":0.35},"encoding":{"detail":{"field":"eff"},"color":{"field":"eff","type":"quantitative","legend":null}}},
{"data":{"name":"f"},"transform":[{"filter":{"field":"eff","oneOf":[70,80,90]}}],"mark":{"type":"line","interpolate":"monotone","color":"#1a1a1a","strokeWidth":2},"encoding":{"detail":{"field":"eff"}}},
{"data":{"name":"fFrame"},"mark":{"type":"rule","color":"#222","strokeWidth":2},"encoding":{"x2":{"field":"asp2"},"y2":{"field":"p252"}}},
{"data":{"name":"fRed"},"mark":{"type":"point","filled":true,"opacity":1,"color":"#ee1111","size":900,"shape":"M-1,0A1,0.6 0 1 1 1,0A1,0.6 0 1 1 -1,0Z"}},
{"data":{"name":"fLab"},"mark":{"type":"point","filled":true,"opacity":1,"fill":"#fff","stroke":"#333","strokeWidth":2,"size":2025,"shape":"M-1,-0.72H1V0.72H-1Z"}},
{"data":{"name":"fLab"},"mark":{"type":"text","fontSize":24,"color":"#333","baseline":"middle","align":"center"},"encoding":{"text":{"field":"t"}}},
{"data":{"name":"fCapP"},"mark":{"type":"text","font":"Liberation Serif","fontSize":80,"color":"#000","baseline":"middle","align":"center"},"encoding":{"text":{"field":"t"}}},
{"data":{"name":"fCapB"},"mark":{"type":"text","font":"Liberation Serif","fontWeight":"bold","fontSize":80,"color":"#000","baseline":"middle","align":"center"},"encoding":{"text":{"field":"t"}}}
]}
]
}
